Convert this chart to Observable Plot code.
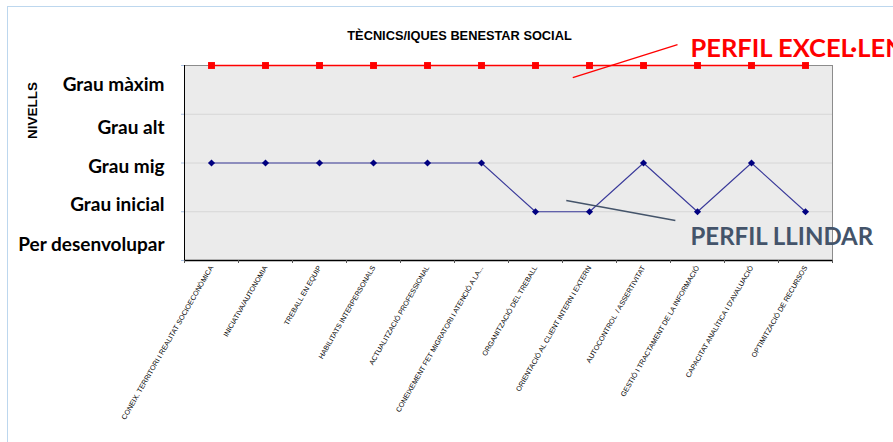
<!DOCTYPE html>
<html>
<head>
<meta charset="utf-8">
<script src="https://cdn.jsdelivr.net/npm/d3@7"></script>
<script src="https://cdn.jsdelivr.net/npm/@observablehq/plot@0.6"></script>
<style>
  html, body { margin: 0; padding: 0; background: #fff; overflow: hidden; }
  #wrap { position: relative; width: 893px; height: 442px; }
  #border { position: absolute; left: 7px; top: 6px; width: 900px; height: 450px;
            border-top: 1px solid #BDD7EE; border-left: 1px solid #BDD7EE; pointer-events: none; }
  #chart { position: absolute; left: 0; top: 0; }
</style>
</head>
<body>
<div id="wrap"><div id="chart"></div><div id="border"></div></div>
<script>
const title = "TÈCNICS/IQUES BENESTAR SOCIAL";
const yAxisTitle = "NIVELLS";
const categories = [
  "CONEIX. TERRITORI I REALITAT SOCIOECONÒMICA",
  "INICIATIVA/AUTONOMIA",
  "TREBALL EN EQUIP",
  "HABILITATS INTERPERSONALS",
  "ACTUALITZACIÓ PROFESSIONAL",
  "CONEIXEMENT FET MIGRATORI I ATENCIÓ A LA...",
  "ORGANITZACIÓ DEL TREBALL",
  "ORIENTACIÓ AL CLIENT INTERN I EXTERN",
  "AUTOCONTROL  / ASSERTIVITAT",
  "GESTIÓ I TRACTAMENT DE LA INFORMACIÓ",
  "CAPACITAT ANALÍTICA I D'AVALUACIÓ",
  "OPTIMITZACIÓ DE RECURSOS"
];
const perfilExcellent = [4, 4, 4, 4, 4, 4, 4, 4, 4, 4, 4, 4];
const perfilLlindar   = [2, 2, 2, 2, 2, 2, 1, 1, 2, 1, 2, 1];
const yTicks = [0, 1, 2, 3, 4];
const levelLabels = ["Per desenvolupar", "Grau inicial", "Grau mig", "Grau alt", "Grau màxim"];
const levelLabelValues = [0.31, 1.15, 1.91, 2.71, 3.61];
const annotationLabels = ["PERFIL EXCEL·LENT", "PERFIL LLINDAR"];
const annotationColors = ["#FF0000", "#44546A"];
// leader lines and label anchors in data units (x = category index, y = level)
const annotationLines = [
  {x1: 6.69, y1: 3.75, x2: 8.63, y2: 4.43},
  {x1: 6.57, y1: 1.23, x2: 8.59, y2: 0.82}
];
const annotationAnchors = [
  {x: 8.87, y: 4.35},
  {x: 8.87, y: 0.47}
];
const annotationSizes = [25.5, 24];

const idx = (d, i) => i;
const boundaries = d3.range(categories.length + 1).map(i => i - 0.5);

const annMarks = annotationLabels.flatMap((lab, k) => [
  Plot.link([annotationLines[k]], {x1: "x1", y1: "y1", x2: "x2", y2: "y2",
    stroke: annotationColors[k], strokeWidth: k === 0 ? 1.3 : 1.5}),
  Plot.text([lab], {x: () => annotationAnchors[k].x, y: () => annotationAnchors[k].y, text: d => d,
    textAnchor: "start", fill: annotationColors[k], fontSize: annotationSizes[k], fontWeight: "bold",
    fontFamily: "Lato, 'Open Sans', sans-serif"})
]);

const chart = Plot.plot({
  width: 893,
  height: 442,
  marginTop: 65,
  marginBottom: 182,
  marginLeft: 184,
  marginRight: 61,
  x: {domain: [-0.5, categories.length - 0.5], axis: null},
  y: {domain: [0, 4], axis: null},
  style: {background: "transparent", fontFamily: "'Liberation Sans', Arial, sans-serif", overflow: "visible"},
  marks: [
    Plot.frame({fill: "#EBEBEB", stroke: "#8C8C8C"}),
    Plot.ruleY([1, 2, 3], {stroke: "#D6D6D6"}),
    Plot.ruleY([0], {stroke: "#000", strokeWidth: 1.5}),
    Plot.ruleX([-0.5], {stroke: "#000", strokeWidth: 1}),
    Plot.axisY({ticks: yTicks, tickSize: 3, tickFormat: () => "", stroke: "#A9BFE0", label: null}),
    Plot.axisX({ticks: boundaries, tickSize: 3, tickFormat: () => "", stroke: "#555", label: null}),
    Plot.line(perfilExcellent, {x: idx, y: d => d, stroke: "#FF0000", strokeWidth: 1.5}),
    Plot.dot(perfilExcellent, {x: idx, y: d => d, symbol: "square", r: 3.9, fill: "#FF0000", stroke: "none"}),
    Plot.line(perfilLlindar, {x: idx, y: d => d, stroke: "#3A3A9A", strokeWidth: 1.1}),
    Plot.dot(perfilLlindar, {x: idx, y: d => d, symbol: "diamond2", r: 3.2, fill: "#000080", stroke: "none"}),
    Plot.text(categories, {x: idx, frameAnchor: "bottom", text: d => d, rotate: -60, textAnchor: "end",
      dx: 2, dy: 7, fontSize: 7.1, fill: "#000"}),
    Plot.text(levelLabels, {y: (d, i) => levelLabelValues[i], frameAnchor: "left", text: d => d,
      textAnchor: "end", dx: -20, fontSize: 19, fontWeight: "bold", fill: "#000",
      fontFamily: "Lato, 'Open Sans', sans-serif"}),
    Plot.text([yAxisTitle], {frameAnchor: "top-left", text: d => d, rotate: -90, dx: -152, dy: 45,
      textAnchor: "middle", lineAnchor: "middle", fontSize: 13.5, fontWeight: "bold", fill: "#000"}),
    Plot.text([title], {frameAnchor: "top", text: d => d, dx: -49, dy: -35,
      fontSize: 12.8, fontWeight: "bold", fill: "#000"}),
    ...annMarks
  ]
});
document.getElementById("chart").appendChild(chart);
</script>
</body>
</html>
